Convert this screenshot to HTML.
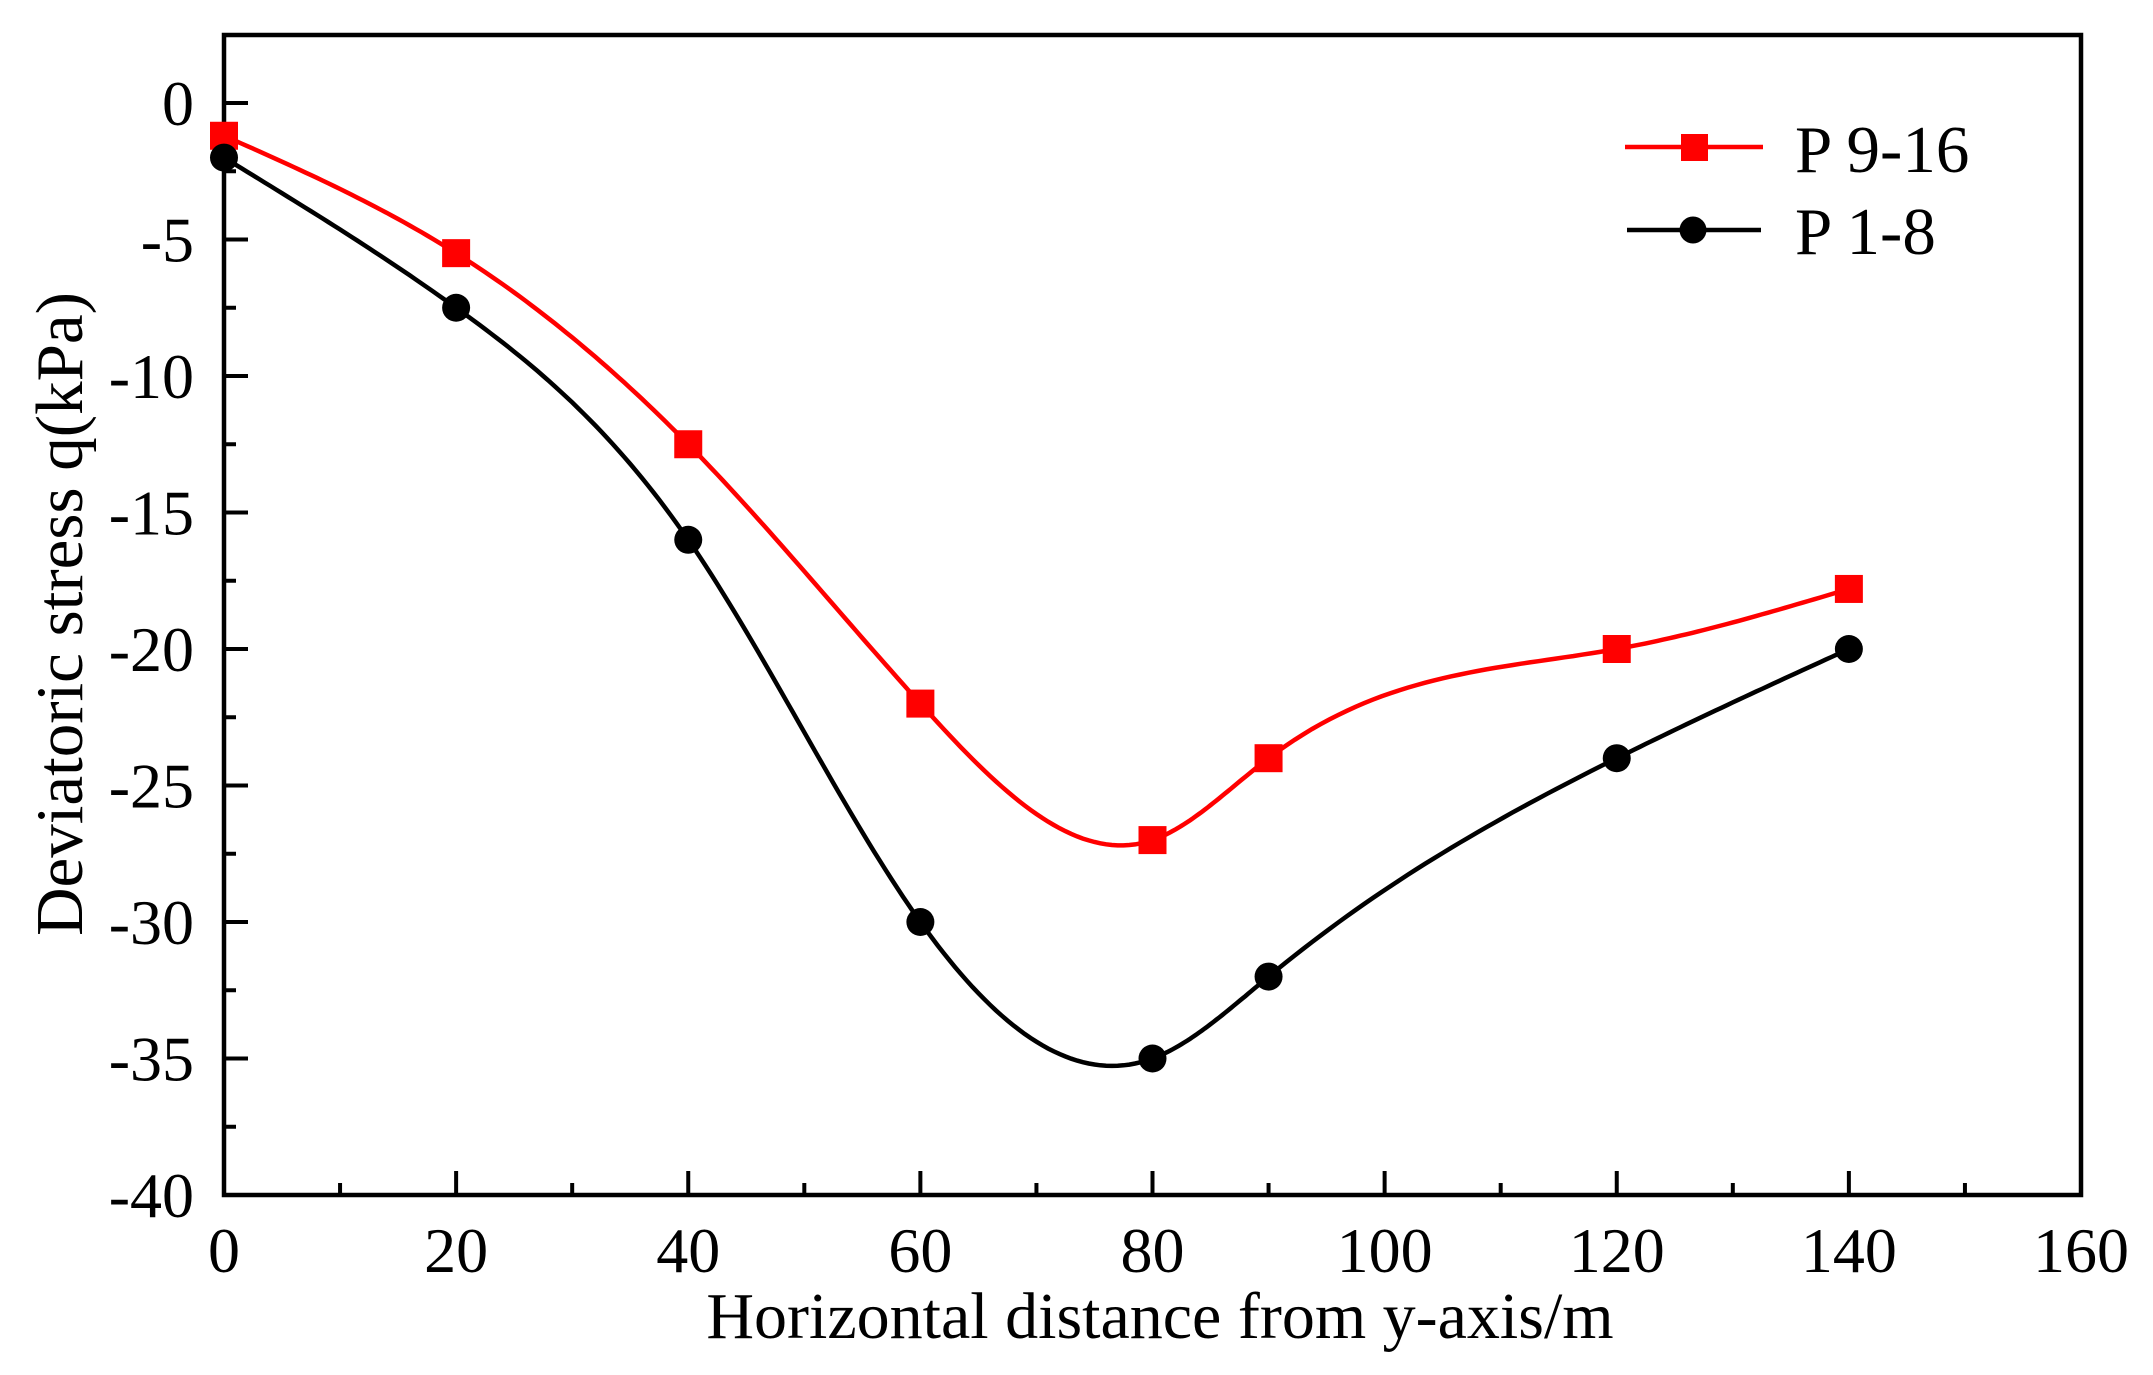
<!DOCTYPE html>
<html><head><meta charset="utf-8"><style>
html,body{margin:0;padding:0;background:#fff;}
svg{display:block;}
text{font-family:"Liberation Serif",serif;fill:#000;}
</style></head><body>
<svg id="chart" width="2153" height="1375" viewBox="0 0 2153 1375" xmlns="http://www.w3.org/2000/svg">
<g id="plot"></g>
</svg>
<script>
const xCats = [0, 20, 40, 60, 80, 90, 120, 140];
const redVals = [-1.2, -5.5, -12.5, -22, -27, -24, -20, -17.8];
const blackVals = [-2, -7.5, -16, -30, -35, -32, -24, -20];
const xTicks = [0, 20, 40, 60, 80, 100, 120, 140, 160];
const yTicks = [0, -5, -10, -15, -20, -25, -30, -35, -40];

const NS = "http://www.w3.org/2000/svg";
const L = 224, R = 2081, T = 35, B = 1195;
const Y0 = 103, Y40 = 1195;
function sx(v){ return L + (v - 0) / 160 * (R - L); }
function sy(v){ return Y0 + (0 - v) / 40 * (Y40 - Y0); }
const g = document.getElementById('plot');
function mk(tag, attrs, parent){
  const e = document.createElementNS(NS, tag);
  for (const k in attrs) e.setAttribute(k, attrs[k]);
  (parent || g).appendChild(e);
  return e;
}

// natural cubic spline
function spline(xs, ys){
  const n = xs.length, h = [], a = [], l = [1], mu = [0], z = [0], c = new Array(n).fill(0), b = [], d = [];
  for (let i = 0; i < n - 1; i++) h.push(xs[i+1] - xs[i]);
  for (let i = 1; i < n - 1; i++) a[i] = 3/h[i]*(ys[i+1]-ys[i]) - 3/h[i-1]*(ys[i]-ys[i-1]);
  for (let i = 1; i < n - 1; i++){
    l[i] = 2*(xs[i+1]-xs[i-1]) - h[i-1]*mu[i-1];
    mu[i] = h[i]/l[i];
    z[i] = (a[i] - h[i-1]*z[i-1])/l[i];
  }
  for (let j = n - 2; j >= 0; j--){
    c[j] = (z[j] || 0) - (mu[j] || 0)*c[j+1];
    if (j === 0) c[0] = 0;
    b[j] = (ys[j+1]-ys[j])/h[j] - h[j]*(c[j+1] + 2*c[j])/3;
    d[j] = (c[j+1]-c[j])/(3*h[j]);
  }
  const pts = [];
  for (let j = 0; j < n - 1; j++){
    for (let s = 0; s <= 40; s++){
      const t = h[j]*s/40;
      pts.push([xs[j]+t, ys[j] + b[j]*t + c[j]*t*t + d[j]*t*t*t]);
    }
  }
  return pts;
}

const frame = mk('rect', {x:L, y:T, width:R-L, height:B-T, fill:'none', stroke:'#000', 'stroke-width':4.5});



for (let i = 0; i <= 16; i++){
  const v = i * 10, x = sx(v), major = i % 2 === 0;
  const t = mk('line', {x1:x, x2:x, y1:B, y2:B - (major ? 24 : 12), stroke:'#000', 'stroke-width':4});
  
  
}
xTicks.forEach(v => {
  const t = mk('text', {x:sx(v), y:1272, 'font-size':64, 'text-anchor':'middle'});
  t.textContent = v;
  
  
});
for (let i = 0; i <= 16; i++){
  const v = -i * 2.5, y = sy(v), major = i % 2 === 0;
  const t = mk('line', {x1:L, x2:L + (major ? 24 : 12), y1:y, y2:y, stroke:'#000', 'stroke-width':4});
  
  
}
yTicks.forEach(v => {
  const t = mk('text', {x:194, y:sy(v) + 22, 'font-size':64, 'text-anchor':'end'});
  t.textContent = v;
  
  
});

const xt = mk('text', {x:1160, y:1338, 'font-size':66, 'text-anchor':'middle'});
xt.textContent = 'Horizontal distance from y-axis/m';


const yt = mk('text', {x:0, y:0, 'font-size':67, 'text-anchor':'middle', transform:'translate(82,614) rotate(-90)'});
yt.textContent = 'Deviatoric stress q(kPa)';



function series(vals, color, marker, name){
  const pts = spline(xCats, vals);
  const d = pts.map((p, i) => (i ? 'L' : 'M') + sx(p[0]).toFixed(1) + ',' + sy(p[1]).toFixed(1)).join('');
  const p = mk('path', {d:d, fill:'none', stroke:color, 'stroke-width':4.5});
  
  
  xCats.forEach((xv, i) => {
    const cx = sx(xv), cy = sy(vals[i]);
    let m;
    if (marker === 'square') m = mk('rect', {x:cx - 14, y:cy - 14, width:28, height:28, fill:color});
    else m = mk('circle', {cx:cx, cy:cy, r:14, fill:color});
    
    
  });
}
series(redVals, '#ff0000', 'square', 'p9-16');
series(blackVals, '#000000', 'circle', 'p1-8');

const lg = mk('g', {});


const l1 = mk('line', {x1:1625, x2:1763, y1:147, y2:147, stroke:'#ff0000', 'stroke-width':4.5}, lg);


const m1 = mk('rect', {x:1681, y:134, width:27, height:27, fill:'#ff0000'}, lg);


const t1 = mk('text', {x:1795, y:172, 'font-size':67}, lg);
t1.textContent = 'P 9-16';


const l2 = mk('line', {x1:1627, x2:1761, y1:230, y2:230, stroke:'#000', 'stroke-width':4.5}, lg);


const m2 = mk('circle', {cx:1693, cy:230, r:13.5, fill:'#000'}, lg);


const t2 = mk('text', {x:1795, y:254, 'font-size':67}, lg);
t2.textContent = 'P 1-8';


</script>
</body></html>
